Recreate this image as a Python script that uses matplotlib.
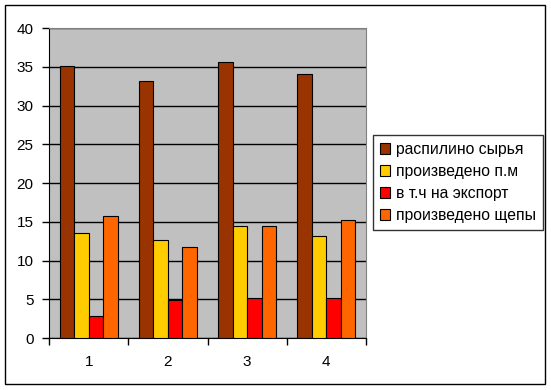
import matplotlib.pyplot as plt
import matplotlib.patches as mpatches
import numpy as np

# Data
categories = ['1', '2', '3', '4']
series_names = ['распилино сырья', 'произведено п.м', 'в т.ч на экспорт', 'произведено щепы']
raw_cut = [35.1, 33.1, 35.6, 34.1]
produced_pm = [13.5, 12.6, 14.5, 13.2]
export = [2.8, 4.9, 5.1, 5.1]
chips = [15.8, 11.8, 14.5, 15.2]

colors = ['#993300', '#FFCC00', '#FF0000', '#FF6600']

plt.rcParams['font.family'] = ['Liberation Sans', 'DejaVu Sans']

fig = plt.figure(figsize=(5.51, 3.90), dpi=100)
ax = fig.add_axes([49 / 551, 1 - 338 / 390, (366 - 49) / 551, (338 - 28) / 390])
ax.set_facecolor('#C0C0C0')

x = np.arange(1, len(categories) + 1)
width = 0.1835
all_series = [raw_cut, produced_pm, export, chips]
handles = []
for i, vals in enumerate(all_series):
    offset = (i - 1.5) * width
    ax.bar(x + offset, vals, width, color=colors[i], edgecolor='black', linewidth=0.8, zorder=3)
    handles.append(mpatches.Patch(facecolor=colors[i], edgecolor='black', linewidth=0.8, label=series_names[i]))

ax.set_xlim(0.5, len(categories) + 0.5)
ax.set_ylim(0, 40)
ax.set_yticks(np.arange(0, 41, 5))
ax.yaxis.grid(True, color='black', linewidth=1, zorder=1)
ax.set_axisbelow(True)

# Category labels at centres, tick marks between groups
ax.set_xticks(x)
ax.set_xticklabels(categories)
ax.set_xticks(np.arange(0.5, len(categories) + 1), minor=True)
ax.tick_params(axis='x', which='major', length=0, pad=12, labelsize=11)
ax.tick_params(axis='x', which='minor', length=5, width=1, direction='out', color='black')
ax.tick_params(axis='y', length=5, width=1, direction='out', labelsize=11, pad=6)

ax.spines['left'].set_color('black')
ax.spines['bottom'].set_color('black')
ax.spines['top'].set_color('#808080')
ax.spines['right'].set_color('#808080')

# Legend
leg = fig.legend(handles=handles, loc='upper left', bbox_to_anchor=(373 / 551, 1 - 135 / 390),
                 fontsize=11.3, frameon=True, fancybox=False, handlelength=0.65, handleheight=0.65,
                 handletextpad=0.35, labelspacing=0.45, borderpad=0.45, borderaxespad=0)
leg.get_frame().set_edgecolor('black')
leg.get_frame().set_linewidth(1)

# Outer chart border
fig.patches.append(mpatches.Rectangle((5 / 551, 1 - 384 / 390), 540 / 551, 379 / 390,
                                      transform=fig.transFigure, fill=False,
                                      edgecolor='black', linewidth=1))

fig.savefig('out.png', dpi=100)
